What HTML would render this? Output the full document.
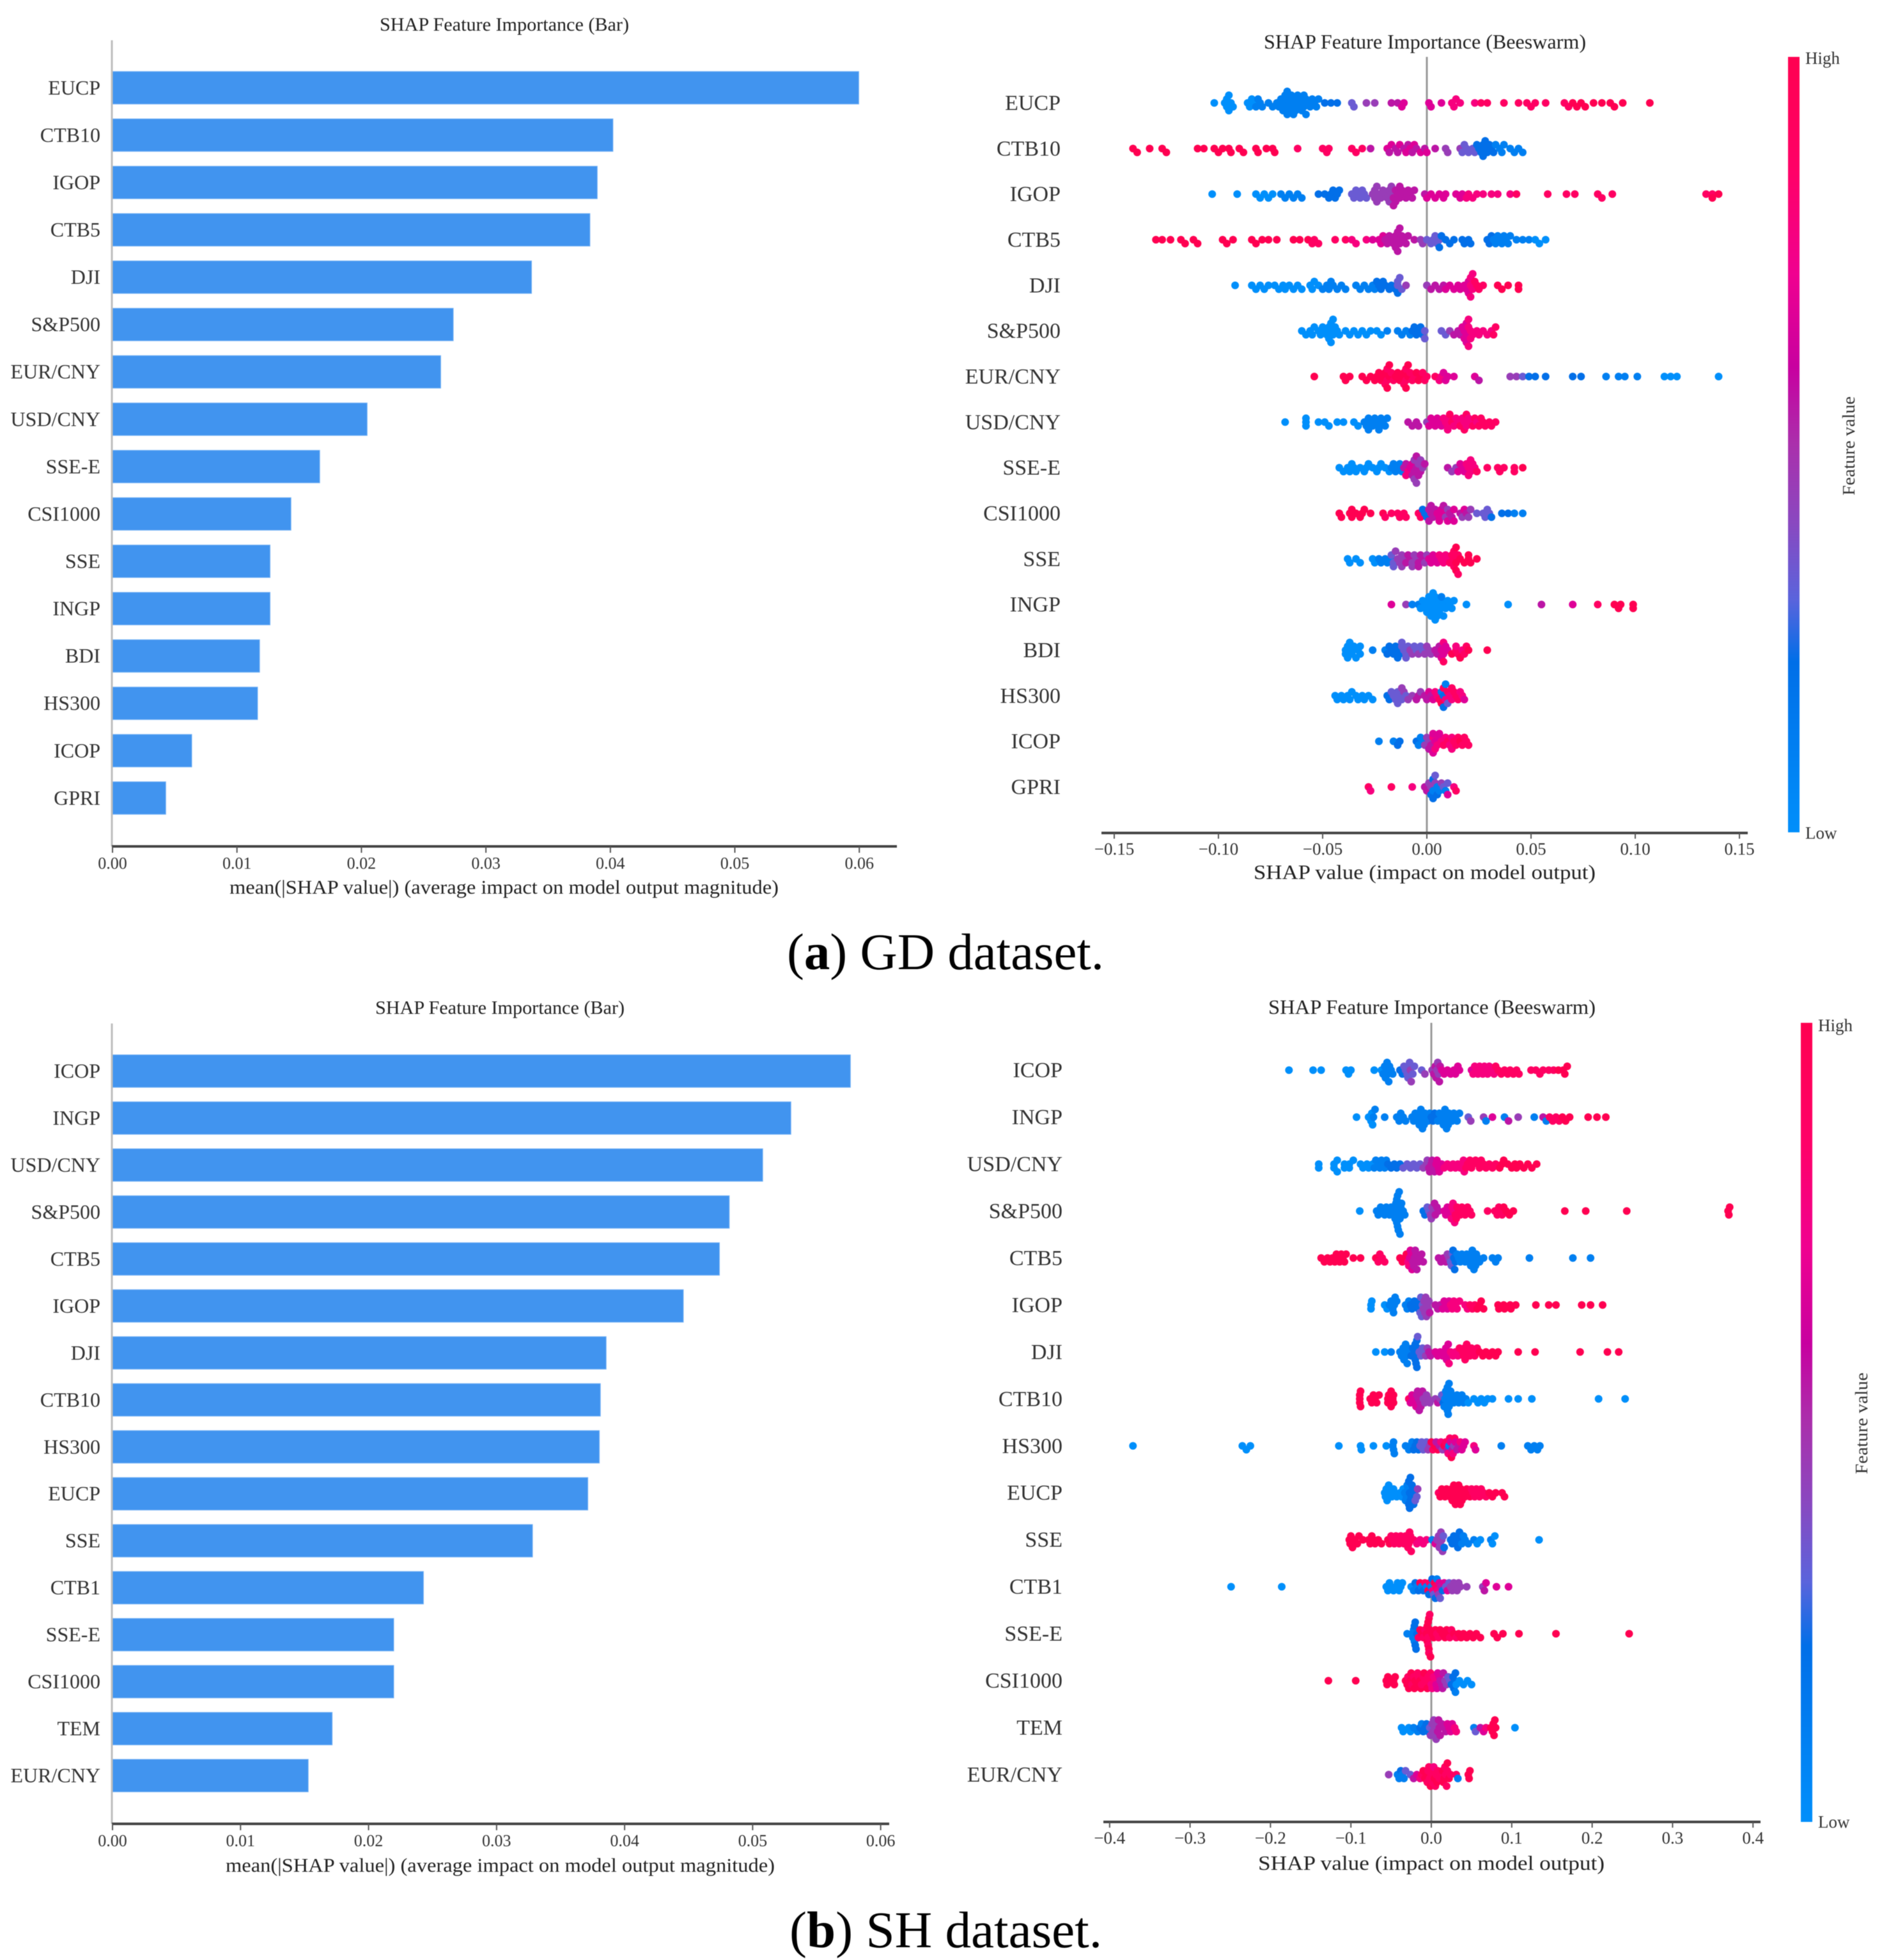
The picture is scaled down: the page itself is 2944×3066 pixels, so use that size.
<!DOCTYPE html>
<html lang="en">
<head>
<meta charset="utf-8">
<title>SHAP Feature Importance</title>
<style>
html,body{margin:0;padding:0;background:#fff;width:2944px;height:3066px;overflow:hidden}
svg{display:block;filter:blur(.6px)}
text{font-family:"Liberation Serif","Times New Roman",serif;fill:#333}
.ttl{fill:#222}
.cap{fill:#000;font-size:80px}
</style>
</head>
<body>
<svg id="chart" xmlns="http://www.w3.org/2000/svg" width="2944" height="3066" viewBox="0 0 2944 3066">
<defs>
<linearGradient id="shapGrad" x1="0" y1="1" x2="0" y2="0">
<stop offset="0" stop-color="#008ffb"/><stop offset=".22" stop-color="#006fe8"/><stop offset=".3" stop-color="#5a64dc"/><stop offset=".4" stop-color="#8a48c0"/><stop offset=".5" stop-color="#aa30ac"/><stop offset=".6" stop-color="#c800a0"/><stop offset=".72" stop-color="#f00090"/><stop offset=".85" stop-color="#ff0068"/><stop offset="1" stop-color="#ff0051"/>
</linearGradient>
</defs>
<rect width="2944" height="3066" fill="#fff"/>

<text class="ttl" x="594" y="48" font-size="30" textLength="390" lengthAdjust="spacingAndGlyphs">SHAP Feature Importance (Bar)</text>
<text class="ttl" x="359" y="1398" font-size="31" textLength="859" lengthAdjust="spacingAndGlyphs">mean(|SHAP value|) (average impact on model output magnitude)</text>
<text class="ttl" x="1977" y="76" font-size="32" textLength="504" lengthAdjust="spacingAndGlyphs">SHAP Feature Importance (Beeswarm)</text>
<text class="ttl" x="1961" y="1375" font-size="32" textLength="535" lengthAdjust="spacingAndGlyphs">SHAP value (impact on model output)</text>
<rect x="2797" y="89" width="18" height="1213" fill="url(#shapGrad)"/>
<text x="2824" y="100" font-size="27">High</text>
<text x="2824" y="1312" font-size="27">Low</text>
<text transform="translate(2901,775) rotate(-90)" font-size="27" textLength="155" lengthAdjust="spacingAndGlyphs">Feature value</text>
<text class="cap" x="1231" y="1516" textLength="496" lengthAdjust="spacingAndGlyphs">(<tspan font-weight="bold" style="fill:#000">a</tspan>) GD dataset.</text>

<text class="ttl" x="587" y="1586" font-size="30" textLength="390" lengthAdjust="spacingAndGlyphs">SHAP Feature Importance (Bar)</text>
<text class="ttl" x="353" y="2928" font-size="31" textLength="859" lengthAdjust="spacingAndGlyphs">mean(|SHAP value|) (average impact on model output magnitude)</text>
<text class="ttl" x="1984" y="1586" font-size="32" textLength="512" lengthAdjust="spacingAndGlyphs">SHAP Feature Importance (Beeswarm)</text>
<text class="ttl" x="1968" y="2925" font-size="32" textLength="542" lengthAdjust="spacingAndGlyphs">SHAP value (impact on model output)</text>
<rect x="2817" y="1600" width="18" height="1250" fill="url(#shapGrad)"/>
<text x="2844" y="1613" font-size="27">High</text>
<text x="2844" y="2859" font-size="27">Low</text>
<text transform="translate(2921,2306) rotate(-90)" font-size="27" textLength="159" lengthAdjust="spacingAndGlyphs">Feature value</text>
<text class="cap" x="1235" y="3046" textLength="489" lengthAdjust="spacingAndGlyphs">(<tspan font-weight="bold" style="fill:#000">b</tspan>) SH dataset.</text>
</svg>

<script>
const gdFeatures=["EUCP","CTB10","IGOP","CTB5","DJI","S&P500","EUR/CNY","USD/CNY","SSE-E","CSI1000","SSE","INGP","BDI","HS300","ICOP","GPRI"];
const gdImportance=[.05996,.04021,.03895,.03836,.03367,.02738,.02637,.02046,.01665,.01434,.01266,.01266,.01182,.01166,.00637,.00428];
const shFeatures=["ICOP","INGP","USD/CNY","S&P500","CTB5","IGOP","DJI","CTB10","HS300","EUCP","SSE","CTB1","SSE-E","CSI1000","TEM","EUR/CNY"];
const shImportance=[.05764,.05299,.05079,.04818,.04741,.04459,.03856,.03811,.03803,.03713,.03281,.02429,.02197,.02197,.01716,.01529];
const barTicks=[0,.01,.02,.03,.04,.05,.06];
const gdBeeTicks=[-.15,-.10,-.05,0,.05,.10,.15];
const shBeeTicks=[-.4,-.3,-.2,-.1,0,.1,.2,.3,.4];

/* SHAP values in thousandths, one list per feature row */
const gdShap=[
[-102,-97,-96,-96,-95,-95,-94,-93,-86,-85,-84,-83,-82,-81,-80,-79,-76,-74,-72,-71,-70,-69,-69,-68,-68,-67,-67,-67,-66,-66,-65,-65,-64,-64,-63,-63,-62,-62,-61,-60,-60,-59,-59,-58,-58,-57,-56,-55,-54,-53,-52,-49,-46,-43,-36,-35,-29,-25,-17,-14,-12,-11,1,2,7,12,13,14,16,23,26,29,37,44,48,50,52,57,66,68,70,72,74,76,80,84,88,90,94,107],
[-141,-139,-133,-127,-125,-110,-107,-102,-100,-98,-95,-94,-90,-88,-82,-81,-77,-74,-73,-62,-50,-48,-47,-36,-34,-31,-27,-19,-18,-17,-15,-14,-13,-11,-10,-9,-8,-7,-6,-5,-3,-1,0,4,9,10,16,17,18,19,20,22,23,24,25,26,27,27,28,28,29,30,31,32,33,35,36,37,40,42,44,46],
[-103,-91,-82,-80,-78,-76,-74,-70,-68,-66,-64,-62,-60,-52,-49,-47,-46,-45,-44,-43,-42,-36,-35,-34,-33,-32,-31,-30,-29,-26,-25,-25,-24,-24,-23,-22,-21,-20,-19,-18,-18,-17,-17,-16,-16,-15,-15,-14,-13,-13,-12,-11,-10,-9,-8,-7,-6,-1,0,2,4,6,8,9,14,16,17,19,20,22,24,27,31,34,40,43,58,67,71,82,84,89,134,137,137,140],
[-130,-127,-123,-118,-116,-112,-110,-98,-96,-93,-84,-82,-79,-76,-72,-64,-61,-57,-55,-54,-52,-44,-39,-36,-34,-29,-26,-23,-22,-21,-20,-19,-18,-17,-16,-15,-15,-14,-14,-14,-13,-13,-12,-11,-10,-9,-6,-3,-2,0,2,3,4,5,6,6,7,9,11,13,17,18,20,21,29,30,31,32,33,34,35,36,37,38,39,40,43,46,49,52,54,57],
[-92,-84,-82,-80,-78,-76,-73,-71,-69,-68,-66,-64,-62,-60,-56,-55,-54,-52,-50,-48,-47,-46,-45,-43,-41,-39,-34,-32,-30,-28,-26,-25,-24,-23,-22,-21,-20,-18,-17,-15,-14,-14,-14,-13,-12,-10,0,2,4,6,8,9,11,13,15,16,18,19,20,20,21,21,21,22,22,23,24,25,27,34,36,39,44,44],
[-60,-58,-56,-55,-54,-52,-51,-50,-49,-48,-47,-47,-46,-46,-46,-45,-45,-44,-43,-42,-39,-37,-35,-33,-31,-29,-27,-24,-22,-19,-14,-12,-10,-8,-7,-6,-5,-4,-3,-2,-1,-1,7,9,11,13,15,16,17,18,18,19,19,19,20,20,20,21,21,22,24,25,27,29,31,32,33],
[-54,-40,-39,-37,-31,-29,-27,-25,-24,-23,-22,-21,-20,-20,-19,-19,-19,-18,-18,-17,-16,-15,-14,-13,-12,-11,-11,-10,-10,-10,-9,-9,-8,-7,-6,-5,-4,-3,-2,-1,0,4,6,7,8,9,10,13,23,25,40,43,46,49,52,57,70,74,86,92,95,101,114,117,120,140],
[-68,-58,-58,-58,-52,-49,-47,-43,-40,-35,-33,-30,-29,-28,-28,-27,-26,-25,-24,-23,-23,-22,-21,-20,-19,-9,-7,-5,-4,0,1,2,3,4,5,6,7,8,9,10,10,11,11,12,13,14,15,16,17,18,18,19,19,20,21,22,23,24,25,26,27,28,30,31,33],
[-42,-40,-38,-37,-36,-35,-34,-32,-30,-29,-28,-26,-24,-23,-22,-20,-18,-17,-16,-15,-14,-13,-12,-11,-10,-10,-9,-8,-7,-7,-6,-6,-6,-5,-5,-5,-4,-4,-3,-3,-2,-1,10,12,14,15,16,17,18,19,20,20,21,21,22,23,24,29,34,35,37,42,42,46],
[-42,-41,-37,-36,-36,-34,-32,-31,-30,-27,-21,-20,-17,-14,-13,-11,-10,-4,-3,-2,-1,0,1,1,2,2,3,4,5,6,6,7,8,8,9,10,10,11,12,13,13,16,17,18,19,20,21,24,27,28,29,30,31,36,39,42,46],
[-38,-37,-34,-32,-26,-25,-23,-22,-20,-19,-17,-17,-16,-16,-15,-14,-13,-12,-12,-11,-10,-9,-8,-7,-7,-6,-5,-4,-4,-3,-2,-1,0,1,2,3,4,5,6,7,8,9,10,11,12,13,13,13,14,14,14,15,15,16,18,20,20,21,24],
[-17,-10,-7,-4,-3,-2,-1,0,0,1,1,2,2,3,3,3,4,4,4,5,5,6,6,7,7,8,8,9,10,11,12,13,19,39,55,70,82,90,92,93,99,99],
[-39,-39,-38,-38,-37,-36,-36,-35,-34,-33,-32,-32,-26,-20,-19,-18,-17,-16,-15,-14,-14,-13,-12,-12,-11,-10,-10,-9,-8,-7,-6,-5,-4,-3,-2,-1,0,1,2,4,5,6,7,7,8,8,8,9,10,12,14,14,15,16,17,18,19,20,29],
[-44,-43,-41,-40,-38,-37,-36,-34,-33,-31,-30,-28,-26,-19,-18,-17,-16,-15,-14,-14,-13,-12,-12,-11,-10,-9,-7,-5,-4,-3,-1,0,1,2,3,4,5,6,7,7,8,8,8,9,9,10,10,11,12,12,13,14,15,16,17,18],
[-23,-16,-14,-13,-5,-4,-3,-2,-1,0,1,1,2,3,3,3,4,4,5,6,6,7,8,9,10,11,12,12,13,14,15,16,17,18,19,20],
[-28,-27,-17,-7,-1,0,1,2,2,3,3,3,4,4,5,5,6,7,8,9,10,10,13,14]
];
/* feature value level per point, 0 = low ... 9 = high */
const gdLevel=[
"000000000000111111111111111111111111111111111111111222334455666667777788888888889999999999999",
"999999999999999999988888885656556565656565654443333332222222222211111111110000",
"00000001111112222222233333333444444444444445555555555555556666666667777777788888888899999999",
"9999999999999999998888877766665555555555555555544333333222222222222111111111111000000",
"00000000000000000011111111111111222222223323344555566666666677777888899999",
"0000000000000000000000000000011111222222333345556666667777777777788888888",
"999999999999988899988999998889998889998888776666654432222211110000000",
"0000000000011111111111111555546666666777778877787787877887888888888888",
"0000000000000000011111155776655445544554455446666777777788888889999",
"9999999999988888888222555555666665446556654654433333222111000000",
"00000011111333444444555444455554466666777778888899988999",
"641100000000000000000000100000000056899999",
"0000000000001122222222333333443343344445556667866987897889999",
"00000000000002233333334434455455656778192827183778888776",
"11222111444557666776678787778889888",
"8787554421224312143136789"
];
const shShap=[
[-177,-147,-137,-106,-103,-100,-71,-62,-60,-58,-57,-56,-55,-54,-53,-52,-50,-48,-39,-36,-34,-32,-30,-29,-28,-27,-26,-25,-23,-21,-12,-8,1,3,5,6,7,8,9,10,11,13,16,20,24,28,30,33,35,50,52,54,56,58,60,62,64,66,68,70,72,75,78,80,83,87,91,95,98,102,106,109,124,130,135,139,146,152,158,164,166,169],
[-93,-78,-75,-74,-73,-72,-70,-58,-43,-40,-38,-35,-32,-24,-22,-20,-18,-16,-15,-14,-13,-12,-11,-10,-9,-8,-6,-4,-2,0,2,4,6,8,10,12,14,15,16,17,18,19,20,21,22,24,26,28,30,32,35,46,49,65,68,76,91,96,108,128,139,143,147,151,155,159,163,167,172,195,206,217],
[-140,-140,-121,-121,-117,-117,-108,-108,-102,-102,-97,-88,-85,-80,-78,-73,-71,-69,-66,-64,-62,-60,-58,-56,-54,-50,-46,-43,-39,-35,-30,-26,-22,-18,-14,-10,-6,-5,-3,-2,0,1,3,4,6,7,9,10,13,16,20,24,27,30,33,36,39,40,41,43,45,48,50,52,55,58,60,62,65,68,72,76,80,85,88,90,95,100,106,104,110,115,120,125,131],
[-89,-68,-66,-63,-61,-58,-56,-54,-52,-50,-47,-46,-45,-44,-44,-43,-43,-42,-42,-41,-41,-40,-40,-39,-39,-38,-37,-35,-33,-10,-8,-5,-3,-1,0,1,3,4,5,7,9,16,18,20,22,24,25,26,27,28,29,30,31,32,34,36,38,40,42,45,48,50,70,79,82,84,86,88,90,93,97,102,166,192,243,369,370,371],
[-137,-133,-129,-126,-123,-120,-118,-116,-114,-112,-110,-108,-106,-97,-88,-69,-66,-64,-61,-58,-39,-36,-33,-31,-29,-28,-27,-26,-25,-24,-23,-22,-21,-20,-19,-18,-16,-14,-12,-10,9,12,15,18,20,22,24,25,26,27,28,29,30,32,34,36,38,40,42,44,46,48,49,50,51,52,53,54,55,56,58,60,65,76,80,83,122,176,198],
[-75,-75,-74,-58,-55,-52,-50,-48,-47,-46,-45,-43,-32,-30,-28,-26,-24,-21,-17,-16,-15,-14,-13,-12,-11,-10,-9,-8,-7,-6,-5,-4,-3,-2,5,8,11,14,16,18,20,22,24,26,28,30,32,35,42,45,48,51,54,57,60,62,65,83,84,90,91,98,99,105,130,146,155,187,198,213],
[-69,-58,-50,-39,-37,-35,-34,-33,-32,-31,-30,-29,-27,-25,-23,-21,-20,-20,-19,-19,-18,-18,-17,-17,-15,-13,-11,-9,-7,-5,-3,-1,5,8,11,14,17,18,19,20,21,22,24,27,30,33,35,39,40,41,42,44,46,48,50,52,54,57,60,64,68,72,76,80,83,108,129,185,219,233],
[-89,-89,-89,-88,-88,-76,-74,-72,-70,-68,-65,-54,-54,-53,-50,-50,-48,-47,-47,-28,-26,-24,-22,-20,-19,-18,-17,-16,-15,-14,-13,-12,-11,-10,-8,-6,-4,-2,5,8,11,13,15,16,17,18,19,20,20,21,21,22,22,23,24,26,28,30,32,34,36,38,40,43,46,53,58,62,66,70,76,96,108,125,208,241],
[-371,-235,-230,-225,-115,-88,-87,-72,-56,-48,-47,-47,-46,-32,-28,-26,-24,-22,-20,-18,-16,-14,-12,-10,-8,-6,-4,-2,0,2,4,6,8,10,12,14,16,18,20,21,22,23,24,25,26,27,28,29,30,32,34,36,38,40,42,53,55,87,120,124,128,132,135],
[-58,-57,-56,-55,-53,-51,-49,-47,-45,-43,-39,-37,-35,-33,-32,-31,-30,-29,-28,-28,-27,-27,-26,-26,-25,-24,-23,-22,-21,-20,-18,-17,9,11,13,15,17,19,21,23,25,26,27,28,29,30,31,32,33,34,35,36,37,38,40,42,44,46,48,50,52,54,56,58,60,62,65,68,72,76,80,88,91],
[-102,-101,-100,-98,-95,-92,-90,-85,-78,-76,-74,-72,-70,-66,-62,-54,-52,-50,-48,-46,-44,-42,-40,-38,-36,-34,-32,-30,-29,-28,-27,-26,-25,-22,-18,-14,-10,-6,1,5,7,9,10,11,12,13,14,15,16,24,26,28,30,32,33,34,35,36,38,40,42,46,53,57,61,74,76,79,134],
[-249,-186,-56,-54,-52,-50,-47,-44,-42,-40,-38,-36,-25,-22,-20,-18,-16,-14,-12,-10,-8,-6,-4,-3,-2,0,1,2,3,4,5,6,7,8,9,10,11,12,14,16,18,20,22,24,26,28,30,32,34,36,44,64,66,68,81,96],
[-30,-24,-23,-22,-21,-21,-20,-20,-19,-18,-16,-14,-12,-10,-8,-6,-5,-5,-4,-4,-4,-3,-3,-3,-2,-2,-1,1,3,5,7,9,11,14,17,19,21,23,25,28,31,34,37,40,44,48,52,56,61,78,82,89,109,155,246],
[-128,-94,-56,-55,-54,-47,-46,-45,-32,-30,-29,-28,-26,-25,-24,-22,-21,-20,-18,-17,-16,-14,-13,-12,-10,-9,-8,-6,-5,-4,-2,-1,0,1,3,5,6,7,8,10,11,13,14,15,17,19,21,23,25,27,28,29,30,30,31,35,40,45,50],
[-37,-35,-28,-26,-22,-17,-14,-12,-10,-8,-6,-4,-2,-1,1,2,3,4,5,6,7,8,9,10,11,13,16,18,20,22,24,26,29,31,53,55,61,65,68,74,76,77,78,79,80,104],
[-53,-42,-40,-38,-36,-34,-32,-26,-22,-18,-14,-12,-10,-8,-6,-5,-4,-3,-2,-1,0,1,2,3,4,5,6,7,8,10,12,14,15,16,17,18,19,20,20,22,24,31,33,46,47,48]
];
const shLevel=[
"000000001111111111223333334433344555444556666666667777777777777888888888888888999999999999",
"000001111111111111111111111112222111111111111111111344161541518888999999999999",
"0000000000000000111111112222233333344455555566666777777777788888888888888999999999",
"0111111111111111111111111111122334444555566666777778888888888888888899999999",
"99999999999999998888999977666655555555555555443332222111111111111111111111111111000000",
"000001111111111222222333344444444555566666777777778889999999999999999",
"001111111111122222222223333344556666666667777788888888888899999999",
"9999999999999999999866666555555554444445432111111111111111111111000000000000",
"000000000111111112222333334498959574985718695748655766676111111",
"0000000000000111112222222222233489999999999999999999999999988888888899999",
"999999999999999998888888888888888877771644444443222222222211111001000",
"00000000000001212912819281273928174635263634444444445666577",
"1111122222899889998899989899998899999889899999999999999",
"9999999999899988999889988988988877776666555544332222210000000",
"0000112122223444444445555555666677135679999990",
"4112113356789998888988879889888999888899881999"
];

const NS="http://www.w3.org/2000/svg";
const svg=document.getElementById("chart");
const gdBarConfig={prefix:"gd-bar",features:gdFeatures,importance:gdImportance,x0:176,perUnit:19470,firstRow:137.3,rowStep:74.07,barH:51,axisTop:63,axisY:1324,axisEnd:1403};
const shBarConfig={prefix:"sh-bar",features:shFeatures,importance:shImportance,x0:176,perUnit:20027,firstRow:1675.5,rowStep:73.47,barH:51,axisTop:1601,axisY:2853,axisEnd:1391};
const gdBeeConfig={prefix:"gd-beeswarm",features:gdFeatures,shap:gdShap,levels:gdLevel,ticks:gdBeeTicks,digits:2,zero:2232,perUnit:3260,firstRow:161,rowStep:71.33,top:89,axisY:1303,axisStart:1723,axisEnd:2734,labelRight:1659};
const shBeeConfig={prefix:"sh-beeswarm",features:shFeatures,shap:shShap,levels:shLevel,ticks:shBeeTicks,digits:1,zero:2239,perUnit:1258,firstRow:1674,rowStep:73.47,top:1600,axisY:2850,axisStart:1726,axisEnd:2754,labelRight:1662};

const stops=[[0,0,143,251],[.22,0,111,232],[.3,90,100,220],[.4,138,72,192],[.5,170,48,172],[.6,200,0,160],[.72,240,0,144],[.85,255,0,104],[1,255,0,81]];
function levelColor(l){
  const t=l/9;
  for(let i=1;i<stops.length;i++){
    if(t<=stops[i][0]){
      const a=stops[i-1],b=stops[i],f=(t-a[0])/(b[0]-a[0]);
      return "rgb("+[1,2,3].map(k=>Math.round(a[k]+(b[k]-a[k])*f)).join(",")+")";
    }
  }
  return "rgb(255,0,81)";
}
function make(tag,attrs){
  const el=document.createElementNS(NS,tag);
  for(const k in attrs)el.setAttribute(k,attrs[k]);
  svg.appendChild(el);
  return el;
}
function fmtTick(v,d){
  const s=Math.abs(v).toFixed(d);
  return v<0?"\u2212"+s:s;
}
function drawBarPanel(c){
  const xAt=v=>c.x0+v*c.perUnit;
  const yAt=i=>c.firstRow+i*c.rowStep;
  c.features.forEach((name,i)=>{
    const bar=make("rect",{x:c.x0,y:yAt(i)-c.barH/2,width:xAt(c.importance[i])-c.x0,height:c.barH,fill:"#4194ef",stroke:"#7db6f5","stroke-width":1});
    
    
    const label=make("text",{x:157,y:yAt(i)+10.5,"font-size":32,"text-anchor":"end"});
    label.textContent=name;
    
    
  });
  const yAxis=make("line",{x1:c.x0-1,x2:c.x0-1,y1:c.axisTop,y2:c.axisY,stroke:"#bdbdbd","stroke-width":3});
  
  
  const xAxis=make("line",{x1:c.x0-1,x2:c.axisEnd,y1:c.axisY,y2:c.axisY,stroke:"#444","stroke-width":4});
  
  
  barTicks.forEach(t=>{
    const tick=make("line",{x1:xAt(t),x2:xAt(t),y1:c.axisY,y2:c.axisY+10,stroke:"#555","stroke-width":2});
    
    
    const lab=make("text",{x:xAt(t),y:c.axisY+35,"font-size":26,"text-anchor":"middle"});
    lab.textContent=t.toFixed(2);
    
    
  });
}
function swarmOffsets(xs){
  const order=xs.map((x,i)=>i).sort((a,b)=>xs[a]-xs[b]);
  const placed=[],out=[];
  order.forEach(i=>{
    for(let k=0;k<60;k++){
      const off=(k===0?0:(k%2?(k+1)/2:-k/2))*6;
      if(!placed.some(p=>p[1]===off&&Math.abs(p[0]-xs[i])<7)){
        placed.push([xs[i],off]);
        out[i]=off;
        break;
      }
    }
  });
  return out;
}
function drawBeePanel(c){
  const xAt=v=>c.zero+v*c.perUnit;
  const yAt=i=>c.firstRow+i*c.rowStep;
  const zero=make("line",{x1:xAt(0),x2:xAt(0),y1:c.top,y2:c.axisY,stroke:"#999","stroke-width":3});
  
  
  c.features.forEach((name,i)=>{
    const label=make("text",{x:c.labelRight,y:yAt(i)+11,"font-size":34,"text-anchor":"end"});
    label.textContent=name;
    
    
    const vals=c.shap[i];
    const xs=vals.map(v=>xAt(v/1000));
    const offs=swarmOffsets(xs);
    const lv=c.levels[i];
    vals.forEach((v,j)=>{
      const level=+lv[Math.min(j,lv.length-1)];
      const dot=make("circle",{cx:xs[j],cy:yAt(i)+offs[j],r:6,fill:levelColor(level)});
      
      
    });
  });
  const xAxis=make("line",{x1:c.axisStart,x2:c.axisEnd,y1:c.axisY,y2:c.axisY,stroke:"#444","stroke-width":4});
  
  
  c.ticks.forEach(t=>{
    const tick=make("line",{x1:xAt(t),x2:xAt(t),y1:c.axisY,y2:c.axisY+9,stroke:"#555","stroke-width":2});
    
    
    const lab=make("text",{x:xAt(t),y:c.axisY+34,"font-size":27,"text-anchor":"middle"});
    lab.textContent=fmtTick(t,c.digits);
    
    
  });
}
drawBarPanel(gdBarConfig);
drawBarPanel(shBarConfig);
drawBeePanel(gdBeeConfig);
drawBeePanel(shBeeConfig);
</script>
</body>
</html>
